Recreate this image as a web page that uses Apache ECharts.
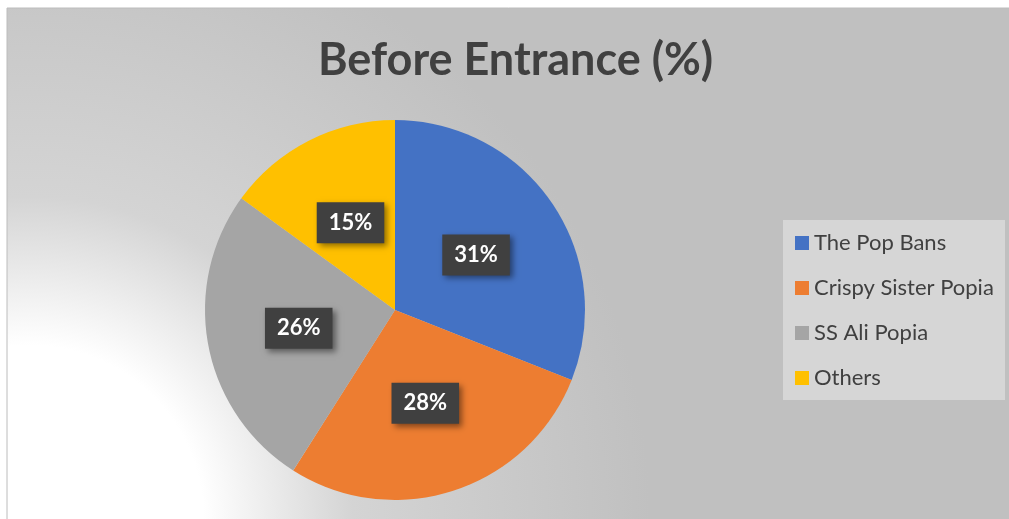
<!DOCTYPE html>
<html><head><meta charset="utf-8">
<script src="https://cdn.jsdelivr.net/npm/echarts@6/dist/echarts.min.js"></script>
<style>html,body{margin:0;padding:0;background:#fff}#c{width:1009px;height:519px}</style>
</head><body><div id="c"></div>
<script>
const titleText = "Before Entrance (%)";
const categories = ["The Pop Bans", "Crispy Sister Popia", "SS Ali Popia", "Others"];
const values = [31, 28, 26, 15];
const colors = ["#4472c4", "#ed7d31", "#a5a5a5", "#ffc000"];

const chart = echarts.init(document.getElementById('c'));
const FONT = 'Lato, "Noto Sans", sans-serif';
chart.setOption({
  animation: false,
  graphic: [
    { type: 'rect', z: -10, silent: true,
      shape: { x: 7, y: 8, width: 1010, height: 520 },
      style: {
        fill: { type: 'radial', x: 30, y: 519, r: 620, global: true,
          colorStops: [
            { offset: 0, color: '#ffffff' },
            { offset: 0.28, color: '#ffffff' },
            { offset: 0.52, color: '#d4d4d4' },
            { offset: 1, color: '#c0c0c0' }
          ] },
        stroke: '#bcbcbc', lineWidth: 1
      } },
    { type: 'rect', z: -5, silent: true,
      shape: { x: 783, y: 220, width: 222, height: 180 },
      style: { fill: '#d6d6d6' } }
  ],
  title: {
    text: titleText, left: 313, top: 33,
    textStyle: { fontFamily: FONT, fontWeight: 'bold', fontSize: 45, color: '#404040' }
  },
  legend: {
    orient: 'vertical', left: 783, top: 220,
    padding: [12, 12, 12, 12],
    itemWidth: 14, itemHeight: 14, itemGap: 23, icon: 'rect',
    data: categories,
    textStyle: { fontFamily: FONT, fontSize: 22, color: '#404040', lineHeight: 20 }
  },
  series: [{
    type: 'pie',
    center: [395, 310], radius: 190,
    startAngle: 90, clockwise: true,
    avoidLabelOverlap: false,
    itemStyle: { borderWidth: 0 },
    label: {
      show: true, position: 'inside',
      formatter: '{d}%',
      fontFamily: FONT, fontWeight: 'bold', fontSize: 22, color: '#ffffff',
      backgroundColor: '#404040',
      padding: [10, 12, 9, 12],
      shadowColor: 'rgba(0,0,0,0.45)', shadowBlur: 6, shadowOffsetX: 3, shadowOffsetY: 3
    },
    labelLine: { show: false },
    emphasis: { disabled: true },
    data: categories.map((n, i) => ({ name: n, value: values[i], itemStyle: { color: colors[i] } }))
  }]
});
</script></body></html>
